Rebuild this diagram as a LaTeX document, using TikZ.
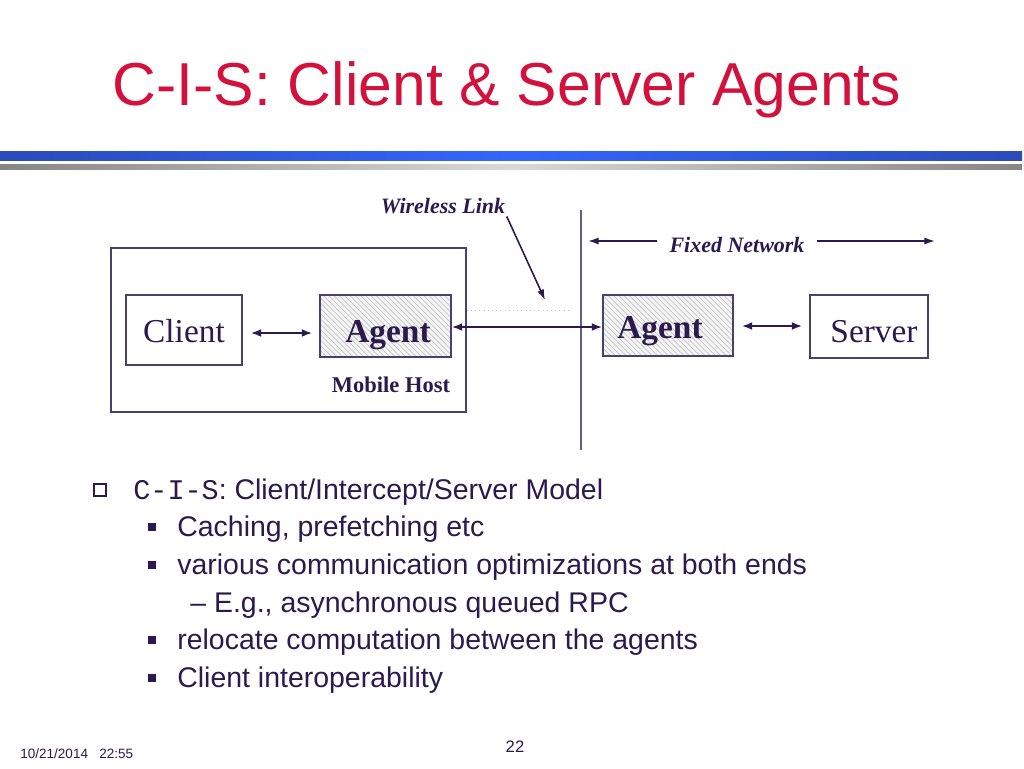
\documentclass[tikz,border=0pt]{standalone}
\usepackage{fontspec}
\setmainfont{Liberation Serif}
\setsansfont{Liberation Sans}
\setmonofont{Liberation Mono}
\usetikzlibrary{arrows.meta,patterns}
\definecolor{titlered}{HTML}{D2123C}
\definecolor{ink}{HTML}{2B1A50}
\definecolor{boxline}{HTML}{4A3F6E}
\definecolor{barblue}{HTML}{3366FF}
\definecolor{bardark}{HTML}{2A4BB8}

\tikzset{
  box/.style={draw=boxline, line width=0.8pt, inner sep=0pt},
  namebox/.style={box, fill=white},
  agentbox/.style={box, preaction={fill=gray!8}, pattern=north west lines, pattern color=gray!45},
  boxtext/.style={text=ink, inner sep=0pt, anchor=base, font=\fontsize{19}{22}\selectfont},
  label/.style={text=ink, inner sep=0pt, anchor=base, font=\fontsize{12.5}{15}\selectfont\bfseries\itshape},
  twoway/.style={draw=ink, line width=1.1pt, {Latex[length=6pt,width=4.5pt]}-{Latex[length=6pt,width=4.5pt]}},
  oneway/.style={draw=ink, line width=0.9pt, -{Latex[length=6pt,width=4pt]}},
  bullettext/.style={text=ink, inner sep=0pt, anchor=base west, font=\sffamily\fontsize{16.2}{19}\selectfont},
  dot/.style={fill=ink, inner sep=0pt, minimum size=0.15cm},
}

\begin{document}
\begin{tikzpicture}[x=0.02cm, y=-0.02cm]
\useasboundingbox[fill=white] (0,0) rectangle (1024,768);

% Title and the two bars below it
\node[text=titlered, inner sep=0pt, anchor=base, font=\sffamily\fontsize{34.5}{40}\selectfont] (title) at (507,105) {C-I-S: Client \& Server Agents};
\shade[left color=bardark, right color=bardark, middle color=barblue] (0,151) rectangle (1022,160);
\shade[left color=gray!95, right color=gray!95, middle color=gray!30] (0,164) rectangle (1022,169);

% Mobile host with client and agent
\node[box, minimum width=7.1cm, minimum height=3.28cm] (mobile) at (288.5,330) {};
\node[namebox, minimum width=2.32cm, minimum height=1.4cm] (client) at (184,330) {};
\node[boxtext] (clientText) at (184,342) {Client};
\node[agentbox, minimum width=2.62cm, minimum height=1.24cm] (agentM) at (385.5,326) {};
\node[boxtext, font=\fontsize{19}{22}\selectfont\bfseries] (agentMText) at (388,342) {Agent};
\node[label, font=\fontsize{12.8}{15}\selectfont\bfseries] (mhost) at (391,392) {Mobile Host};

% Fixed side with agent and server
\node[agentbox, minimum width=2.6cm, minimum height=1.22cm] (agentF) at (668,325.5) {};
\node[boxtext, font=\fontsize{19}{22}\selectfont\bfseries] (agentFText) at (660,338) {Agent};
\node[namebox, minimum width=2.36cm, minimum height=1.26cm] (server) at (869,326.5) {};
\node[boxtext] (serverText) at (874,342) {Server};

% Divider between wireless and fixed parts
\coordinate (divTop) at (581,210);
\coordinate (divBot) at (581,450);
\draw[boxline!85, line width=1.1pt] (divTop) -- (divBot);
\coordinate (dotEnd) at (572,310);
\draw[gray!50, dotted, line width=0.4pt] (mobile.east |- dotEnd) -- (dotEnd);

% Connectors
\draw[twoway, shorten <=0.16cm, shorten >=0.14cm] (client.east |- 0,333) -- (agentM.west |- 0,333);
\draw[twoway] (agentM.east |- 0,327) -- (agentF.west |- 0,327);
\draw[twoway, shorten <=0.16cm, shorten >=0.14cm] (agentF.east |- 0,326) -- (server.west |- 0,326);

% Wireless link and fixed network labels
\node[label] (wireless) at (443,213) {Wireless Link};
\coordinate (wtip) at (545,300);
\draw[oneway, shorten <=0.06cm] (wireless.south east) -- (wtip);
\node[label] (fixed) at (737,252) {Fixed Network};
\coordinate (fixL) at (588,241);
\coordinate (fixR) at (935,241);
\draw[oneway, shorten <=0.24cm] (fixed.west |- fixL) -- (fixL);
\draw[oneway, shorten <=0.24cm] (fixed.east |- fixR) -- (fixR);

% Bullet points
\node[draw=ink, line width=0.6pt, inner sep=0pt, minimum size=0.24cm] (b1) at (100,490) {};
\node[bullettext] (t1) at (133,499) {{\ttfamily C-I-S}: Client/Intercept/Server Model};
\node[dot] (b2) at (152,527) {};
\node[bullettext] (t2) at (177,536) {Caching, prefetching etc};
\node[dot] (b3) at (152,565) {};
\node[bullettext] (t3) at (177,574) {various communication optimizations at both ends};
\node[bullettext] (t4) at (190,612) {--\ E.g., asynchronous queued RPC};
\node[dot] (b5) at (152,640) {};
\node[bullettext] (t5) at (177,649) {relocate computation between the agents};
\node[dot] (b6) at (152,678) {};
\node[bullettext] (t6) at (177,687) {Client interoperability};

% Footer
\node[text=ink, inner sep=0pt, anchor=base west, font=\sffamily\fontsize{7.7}{9}\selectfont] (date) at (20,758) {10/21/2014\ \ \ 22:55};
\node[text=ink, inner sep=0pt, anchor=base, font=\sffamily\fontsize{9.5}{11}\selectfont] (page) at (515,752) {22};
\end{tikzpicture}
\end{document}
